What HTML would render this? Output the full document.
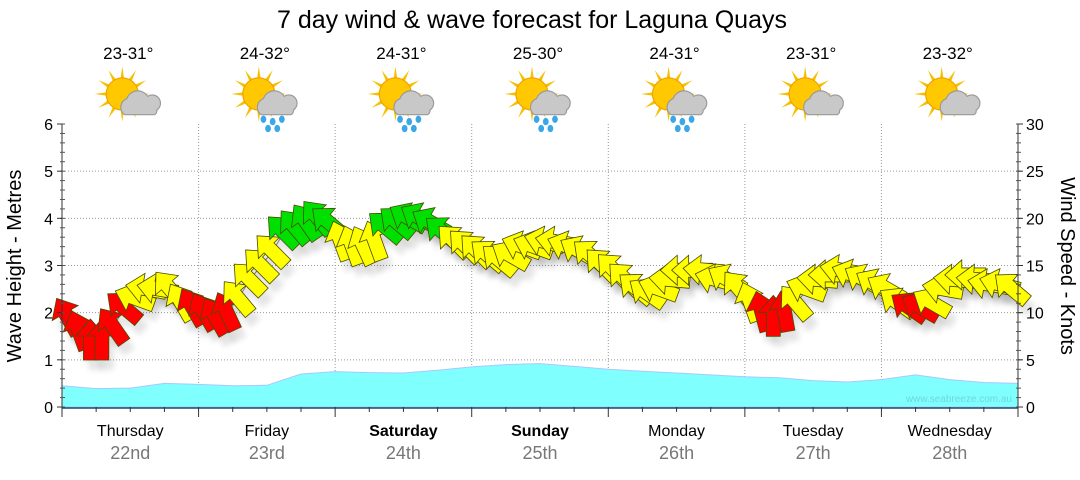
<!DOCTYPE html>
<html><head><meta charset="utf-8"><style>
body{margin:0;background:#fff;width:1080px;height:475px;overflow:hidden;font-family:"Liberation Sans",sans-serif}
svg text{font-family:"Liberation Sans",sans-serif}
</style></head><body>
<svg id="c" width="1080" height="475">
<defs><filter id="sh" x="-30%" y="-30%" width="160%" height="160%"><feGaussianBlur stdDeviation="3"/></filter></defs>
</svg>
<script>
const days=["Thursday","Friday","Saturday","Sunday","Monday","Tuesday","Wednesday"];
const dates=["22nd","23rd","24th","25th","26th","27th","28th"];
const boldDays=[false,false,true,true,false,false,false];
const temps=["23-31°","24-32°","24-31°","25-30°","24-31°","23-31°","23-32°"];
const rainy=[false,true,true,true,true,false,false];
const waveTicks=[0,1,2,3,4,5,6];
const windTicks=[0,5,10,15,20,25,30];
// wave height (m), 4 samples per day (6-hourly) + final
const waveHeight=[0.45,0.39,0.40,0.50,0.48,0.45,0.46,0.70,0.75,0.73,0.72,0.78,0.85,0.90,0.92,0.86,0.80,0.76,0.72,0.68,0.64,0.62,0.56,0.53,0.58,0.68,0.58,0.52,0.50];
// wind speed (knots), 12 samples per day (2-hourly)
const windSpeed=[9.5,8,7,7,8.5,10.5,11.5,12.5,12.5,12.5,11,10.5,
10,9.5,10,11.5,13.5,15,16.5,18.5,19,19.5,20,19.5,
17.5,17,17,17.5,19,19.5,20,20,19.5,18.5,17.5,17,
16.5,16,15.5,16,17,17,17.5,17.5,17,16.5,16,15,
14.5,13.5,12.5,12,12.5,13.5,14.5,14.5,14.5,13.5,13.5,12.5,
11,10,9.5,10,11,12.5,13.5,14,14.5,14,13.5,13,
12.5,11,10.5,10.5,11,12.5,13.5,14,13.5,13,13,12.5];
// arrow pointing direction (deg, 0=up, negative=left)
const windDir=[-30,-20,0,0,-35,-50,-70,-80,-80,-40,-30,-30,
-30,-30,-25,-40,-45,-45,-45,-45,-40,-35,-40,-50,
-20,-20,-25,-20,-50,-50,-60,-60,-60,-50,-45,-45,
-45,-50,-50,-60,-70,-70,-75,-80,-70,-60,-50,-45,
-45,-45,-50,-55,-70,-85,-90,-90,-85,-75,-60,-40,
-20,-15,0,-10,-40,-70,-85,-90,-80,-70,-60,-60,
-60,-55,-55,-60,-60,-80,-85,-90,-85,-80,-75,-50];
const X0=62,X1=1018,Y0=407,Y1=124;
const dayW=(X1-X0)/7;
const NS="http://www.w3.org/2000/svg";
const svg=document.getElementById('c');
function el(t,a,p){const e=document.createElementNS(NS,t);for(const k in a)e.setAttribute(k,a[k]);(p||svg).appendChild(e);return e;}
const xT=h=>X0+h/168*(X1-X0);
const yW=m=>Y0-m/6*(Y0-Y1);
const yK=k=>Y0-k/30*(Y0-Y1);

let t=el('text',{x:532,y:28,'font-size':25,'text-anchor':'middle',fill:'#000'});t.textContent="7 day wind & wave forecast for Laguna Quays";


// grid
const grid=el('g',{});
waveTicks.slice(1,6).forEach(v=>el('line',{x1:X0,x2:X1,y1:yW(v),y2:yW(v),stroke:'#999','stroke-dasharray':'1,2'},grid));
for(let d=1;d<7;d++)el('line',{x1:X0+d*dayW,x2:X0+d*dayW,y1:Y1,y2:Y0,stroke:'#999','stroke-dasharray':'1,2'},grid);

// wave area
let pts=waveHeight.map((v,i)=>xT(i*6).toFixed(1)+','+yW(v).toFixed(1));
let wa=el('polygon',{points:X0+','+Y0+' '+pts.join(' ')+' '+X1+','+Y0,fill:'#80ffff',stroke:'#a8c8ff','stroke-width':1});

t=el('text',{x:1012,y:402,'font-size':10,'text-anchor':'end',fill:'#6cd8e0'});t.textContent="www.seabreeze.com.au";


// wind line + arrows
let lp=windSpeed.map((v,i)=>xT(i*2+1).toFixed(1)+','+yK(v).toFixed(1));
el('polyline',{points:lp.join(' '),fill:'none',stroke:'#888','stroke-width':1});
const ag=el('g',{});
const shape="M0,-22 L15,-5 L7,-5 L7,19 L-7,19 L-7,-5 L-15,-5 Z";
windSpeed.forEach((v,i)=>{
  const x=xT(i*2+1),y=yK(v);
  el('path',{d:shape,transform:`translate(${x+5},${y+10}) rotate(${windDir[i]})`,fill:'#000',opacity:0.1,filter:'url(#sh)'},ag);
});
windSpeed.forEach((v,i)=>{
  const x=xT(i*2+1),y=yK(v);
  const col=v<11?'#ff0000':(v<18.5?'#ffff00':'#00e000');
  const a=el('path',{d:shape,transform:`translate(${x},${y}) rotate(${windDir[i]})`,fill:col,stroke:'#4a4a00','stroke-width':0.8},ag);
  
  
});

// axes
el('line',{x1:X0,x2:X0,y1:Y1,y2:Y0,stroke:'#333'});
el('line',{x1:X1,x2:X1,y1:Y1,y2:Y0,stroke:'#333'});
el('line',{x1:X0,x2:X1,y1:Y0+1,y2:Y0+1,stroke:'#1a4a6a','stroke-width':1.5});
for(let i=0;i<=30;i++){
  const y=Y0-i*(Y0-Y1)/30;
  el('line',{x1:X0-2,x2:X0+3,y1:y,y2:y,stroke:'#555'});
  el('line',{x1:X1-2,x2:X1+3,y1:y,y2:y,stroke:'#555'});
}
waveTicks.forEach(v=>{const y=yW(v);el('line',{x1:X0-5,x2:X0,y1:y,y2:y,stroke:'#333'});
 const l=el('text',{x:X0-9,y:y+6,'font-size':16,'text-anchor':'end',fill:'#000'});l.textContent=v;
 });
windTicks.forEach(v=>{const y=yK(v);el('line',{x1:X1,x2:X1+5,y1:y,y2:y,stroke:'#333'});
 const l=el('text',{x:X1+8,y:y+6,'font-size':16,fill:'#000'});l.textContent=v;
 });
for(let i=0;i<=28;i++){const x=X0+i*dayW/4;el('line',{x1:x,x2:x,y1:Y0,y2:Y0+(i%4==0?10:5),stroke:'#333'});}
t=el('text',{transform:`translate(21,266) rotate(-90)`,'font-size':20,'text-anchor':'middle'});t.textContent="Wave Height - Metres";

t=el('text',{transform:`translate(1061,266) rotate(90)`,'font-size':20,'text-anchor':'middle'});t.textContent="Wind Speed - Knots";


// day labels + icons
days.forEach((d,i)=>{
  const cx=X0+(i+0.5)*dayW;
  let l=el('text',{x:cx,y:436,'font-size':16,'text-anchor':'middle','font-weight':boldDays[i]?'bold':'normal'});l.textContent=d;
  
  l=el('text',{x:cx,y:459,'font-size':18,'text-anchor':'middle',fill:'#777'});l.textContent=dates[i];
  
  l=el('text',{x:cx-2,y:59,'font-size':17,'text-anchor':'middle'});l.textContent=temps[i];
  
  const g=el('g',{transform:`translate(${cx-8},94) scale(1.15)`});
  
  for(let r=0;r<12;r++){const a=r*30*Math.PI/180;
    el('polygon',{points:`${Math.cos(a-0.15)*12},${Math.sin(a-0.15)*12} ${Math.cos(a)*24},${Math.sin(a)*24} ${Math.cos(a+0.15)*12},${Math.sin(a+0.15)*12}`,fill:'#f5c000'},g);}
  el('circle',{cx:0,cy:0,r:14,fill:'#ffc800',stroke:'#f0a000'},g);
  el('path',{d:"M2,18 a8,8 0 0 1 2,-14 a10,10 0 0 1 18,-2 a7,7 0 0 1 8,12 a4,4 0 0 1 -2,4 Z",fill:'#c8c8c8',stroke:'#999'},g);
  if(rainy[i]){[[4,22],[12,24],[20,22],[8,30],[16,30]].forEach(p=>el('ellipse',{cx:p[0],cy:p[1],rx:2.5,ry:3.2,fill:'#3aa8e8'},g));}
});
</script>
</body></html>
